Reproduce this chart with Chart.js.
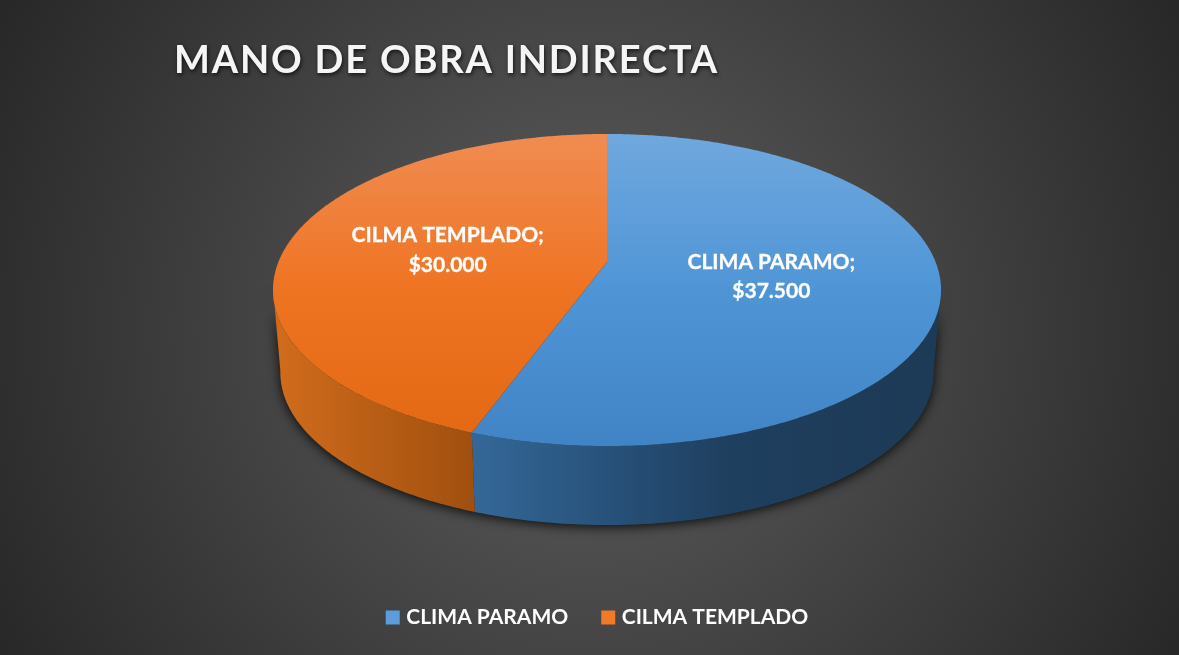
<!DOCTYPE html>
<html>
<head>
<meta charset="utf-8">
<style>
  html, body { margin: 0; padding: 0; background: #2a2a2a; overflow: hidden; }
  canvas { display: block; }
</style>
<script src="https://cdn.jsdelivr.net/npm/chart.js@4"></script>
</head>
<body>
<canvas id="pieChart" width="1179" height="655"></canvas>
<script>
const chartTitle = 'MANO DE OBRA INDIRECTA';
const categories = ['CLIMA PARAMO', 'CILMA TEMPLADO'];
const values = [37500, 30000];
const legendColors = ['#5b9ddc', '#f07a26'];

// Excel style 3D view: the unit disc is projected with a small perspective
const view = { cx: 607, cy: 262, a: 328.6, b: 151, k: -0.1795, depthScale: 0.978, depthCy: 345 };
const STEP = 0.01;
const WALL_FROM = 0.17;
const WALL_TO = Math.PI - 0.17;

const project = (angle, r, bottom) => {
    const u = Math.cos(angle) * r;
    const v = Math.sin(angle) * r;
    const d = 1 + view.k * v;
    const s = bottom ? view.depthScale : 1;
    const cy = bottom ? view.depthCy : view.cy;
    return [view.cx + s * view.a * u / d, cy + s * view.b * v / d];
};

const tracePoints = (ctx, from, to, r, bottom, move) => {
    const steps = Math.max(2, Math.ceil(Math.abs(to - from) / STEP));
    for (let i = 0; i <= steps; i++) {
        const p = project(from + (to - from) * i / steps, r, bottom);
        if (i === 0 && move) ctx.moveTo(p[0], p[1]);
        else ctx.lineTo(p[0], p[1]);
    }
};

const traceQuad = (ctx, a0, a1) => {
    const p0 = project(a0, 1, false);
    const p1 = project(a0, 1, true);
    const p2 = project(a1, 1, true);
    const p3 = project(a1, 1, false);
    ctx.moveTo(p0[0], p0[1]);
    ctx.lineTo(p1[0], p1[1]);
    ctx.lineTo(p2[0], p2[1]);
    ctx.lineTo(p3[0], p3[1]);
    ctx.closePath();
};

const makeGradient = (ctx, x0, y0, x1, y1, stops) => {
    const g = ctx.createLinearGradient(x0, y0, x1, y1);
    stops.forEach(s => g.addColorStop(s[0], s[1]));
    return g;
};

const pie3d = {
    id: 'pie3d',
    beforeDraw(chart) {
        const { ctx, width, height } = chart;
        const bg = ctx.createRadialGradient(590, 330, 60, 590, 330, 680);
        bg.addColorStop(0, '#5a5a5a');
        bg.addColorStop(1, '#272727');
        ctx.save();
        ctx.fillStyle = bg;
        ctx.fillRect(0, 0, width, height);
        ctx.restore();
    },
    // the arcs come from the pie controller, only the way they are painted changes
    beforeDatasetDraw(chart, args) {
        const { ctx } = chart;
        const arcs = args.meta.data;
        const topFills = [
            makeGradient(ctx, 0, 134, 0, 446, [[0, '#70a8de'], [0.5, '#4f95d6'], [1, '#4184c6']]),
            makeGradient(ctx, 0, 134, 0, 446, [[0, '#f08c52'], [0.5, '#ef7422'], [1, '#e26813']])
        ];
        const wallFills = [
            makeGradient(ctx, 475, 0, 936, 0, [[0, '#346798'], [0.35, '#254d74'], [0.55, '#1f3f5f'], [1, '#1d3a56']]),
            makeGradient(ctx, 283, 0, 475, 0, [[0, '#cf6b1b'], [1, '#a04f0f']])
        ];

        // soft shadow under the whole cylinder
        ctx.save();
        ctx.shadowColor = 'rgba(0,0,0,0.85)';
        ctx.shadowBlur = 12;
        ctx.shadowOffsetY = 2;
        ctx.fillStyle = '#2a2a2a';
        ctx.beginPath();
        tracePoints(ctx, 0, Math.PI * 2, 1, true, true);
        ctx.closePath();
        for (let a = WALL_FROM; a < WALL_TO; a += STEP) traceQuad(ctx, a, a + STEP);
        ctx.fill();
        ctx.restore();

        // side wall: thin quads in one path, so the outline keeps its straight tangents
        arcs.forEach((arc, i) => {
            const { startAngle, endAngle } = arc.getProps(['startAngle', 'endAngle'], true);
            const from = Math.max(startAngle, WALL_FROM);
            const to = Math.min(endAngle, WALL_TO);
            ctx.beginPath();
            for (let a = from; a < to; a += STEP) traceQuad(ctx, a, Math.min(a + STEP, to));
            ctx.fillStyle = wallFills[i];
            ctx.fill();
        });

        arcs.forEach((arc, i) => {
            const { startAngle, endAngle } = arc.getProps(['startAngle', 'endAngle'], true);
            const c = project(0, 0, false);
            ctx.beginPath();
            ctx.moveTo(c[0], c[1]);
            tracePoints(ctx, startAngle, endAngle, 1, false, false);
            ctx.closePath();
            ctx.fillStyle = topFills[i];
            ctx.fill();
        });

        ctx.save();
        ctx.font = 'bold 21px Lato';
        ctx.fillStyle = '#ffffff';
        ctx.strokeStyle = '#ffffff';
        ctx.lineWidth = 0.3;
        ctx.textAlign = 'center';
        ctx.textBaseline = 'middle';
        arcs.forEach((arc, i) => {
            const { startAngle, endAngle } = arc.getProps(['startAngle', 'endAngle'], true);
            const p = project((startAngle + endAngle) / 2, 0.5, false);
            const name = categories[i] + ';';
            const amount = '$' + values[i].toLocaleString('de-DE');
            ctx.fillText(name, p[0], p[1] - 13.5);
            ctx.strokeText(name, p[0], p[1] - 13.5);
            ctx.fillText(amount, p[0], p[1] + 16);
            ctx.strokeText(amount, p[0], p[1] + 16);
        });
        ctx.restore();
        return false;
    },
    afterDraw(chart) {
        const { ctx } = chart;
        ctx.save();
        ctx.font = 'bold 38px Lato';
        ctx.letterSpacing = '1.8px';
        ctx.fillStyle = '#f5f5f5';
        ctx.textBaseline = 'alphabetic';
        ctx.shadowColor = 'rgba(0,0,0,0.7)';
        ctx.shadowBlur = 4;
        ctx.shadowOffsetX = 1;
        ctx.shadowOffsetY = 2;
        ctx.fillText(chartTitle, 174, 73);
        ctx.restore();
    }
};

new Chart(document.getElementById('pieChart'), {
    type: 'pie',
    data: {
        labels: categories,
        datasets: [{
            data: values,
            backgroundColor: legendColors,
            borderWidth: 0
        }]
    },
    plugins: [pie3d],
    options: {
        responsive: false,
        animation: false,
        layout: { padding: { bottom: 17, left: 19 } },
        plugins: {
            tooltip: { enabled: false },
            title: { display: false },
            legend: {
                position: 'bottom',
                labels: {
                    color: '#ffffff',
                    font: { family: 'Lato', size: 21, weight: 'bold' },
                    boxWidth: 6,
                    boxHeight: 6,
                    padding: 37,
                    // thick stroke keeps the swatch 14px while the text sits closer to it
                    generateLabels: () => categories.map((name, i) => ({
                        text: name,
                        fontColor: '#ffffff',
                        fillStyle: legendColors[i],
                        strokeStyle: legendColors[i],
                        lineWidth: 8,
                        index: i
                    }))
                }
            }
        }
    }
});
</script>
</body>
</html>
